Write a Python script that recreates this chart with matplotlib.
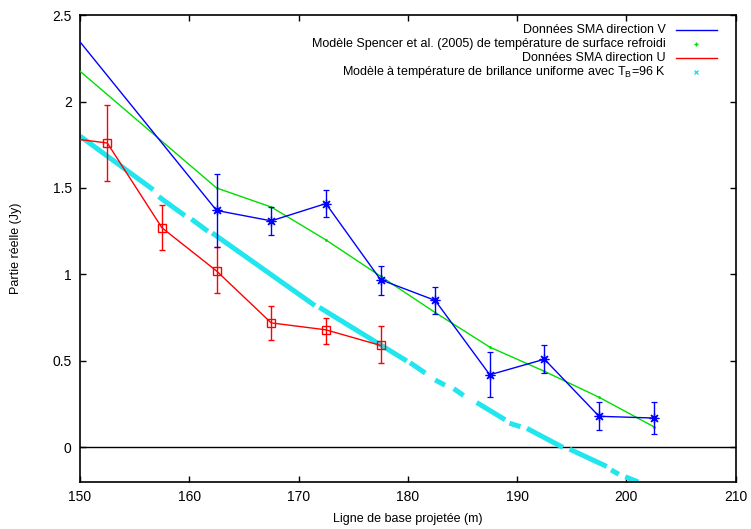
import numpy as np
import matplotlib
matplotlib.use('Agg')
import matplotlib.pyplot as plt

plt.rcParams['font.family'] = ['Liberation Sans', 'DejaVu Sans']
plt.rcParams['font.size'] = 9

# Données SMA direction V (first point outside the frame, line comes in from the left)
v_x = [147.5, 162.5, 167.5, 172.5, 177.5, 182.5, 187.5, 192.5, 197.5, 202.5]
v_y = [2.54, 1.37, 1.31, 1.41, 0.97, 0.85, 0.42, 0.51, 0.18, 0.17]
v_lo = [0.0, 0.21, 0.08, 0.08, 0.09, 0.08, 0.13, 0.08, 0.08, 0.09]
v_hi = [0.0, 0.21, 0.08, 0.08, 0.08, 0.08, 0.13, 0.08, 0.08, 0.09]

# Données SMA direction U
u_x = [147.5, 152.5, 157.5, 162.5, 167.5, 172.5, 177.5]
u_y = [1.80, 1.76, 1.27, 1.02, 0.72, 0.68, 0.59]
u_lo = [0.0, 0.22, 0.13, 0.13, 0.10, 0.08, 0.10]
u_hi = [0.0, 0.22, 0.13, 0.14, 0.10, 0.07, 0.11]

# Modèle Spencer et al. (2005)
m_x = [147.5, 162.5, 167.5, 172.5, 177.5, 182.5, 187.5, 192.5, 197.5, 202.5]
m_y = [2.31, 1.50, 1.39, 1.20, 0.99, 0.78, 0.58, 0.44, 0.29, 0.12]

# Modèle TB=96 K : segments of densely packed points (x start, x end, y start, y end)
tb_x0 = [150.0, 157.2, 160.2, 162.1, 171.9, 180.2, 182.5, 184.2, 186.3, 189.3, 190.9, 194.8, 198.6, 199.9]
tb_x1 = [156.7, 159.6, 161.7, 171.5, 179.9, 181.6, 183.4, 185.1, 188.9, 190.3, 194.2, 198.2, 199.3, 201.1]
tb_y0 = [1.80, 1.45, 1.32, 1.24, 0.81, 0.49, 0.39, 0.34, 0.26, 0.14, 0.11, -0.01, -0.13, -0.17]
tb_y1 = [1.49, 1.34, 1.25, 0.82, 0.50, 0.43, 0.36, 0.30, 0.16, 0.12, 0.00, -0.11, -0.155, -0.20]

c_blue = '#0000ff'
c_red = '#ff0000'
c_green = '#00dd00'
c_cyan = '#22e6ee'

fig = plt.figure(figsize=(7.51, 5.29), dpi=100)
ax = fig.add_axes([0.1065, 0.0888, 0.9796 - 0.1065, 0.9716 - 0.0888])

ax.axhline(0, color='black', lw=1.0, zorder=1)

for xa, xb, ya, yb in zip(tb_x0, tb_x1, tb_y0, tb_y1):
    ax.plot([xa, xb], [ya, yb], color=c_cyan, lw=3.6, solid_capstyle='butt', zorder=2)

ax.plot(m_x, m_y, color=c_green, lw=1.0, marker='.', ms=2, zorder=3)

ax.errorbar(u_x, u_y, yerr=[u_lo, u_hi], color=c_red, lw=1.0, elinewidth=1.0,
            capsize=2.5, marker='s', ms=6, mfc='none', mec=c_red, mew=1.0, zorder=4)
ax.errorbar(v_x, v_y, yerr=[v_lo, v_hi], color=c_blue, lw=1.0, elinewidth=1.0,
            capsize=2.5, marker=(8, 2, 0), ms=7, mew=0.9, zorder=5)

ax.set_xlim(150, 210)
ax.set_ylim(-0.2, 2.5)
ax.set_xticks(np.arange(150, 211, 10))
ax.set_yticks([0, 0.5, 1, 1.5, 2, 2.5])
ax.set_yticklabels(['0', '0.5', '1', '1.5', '2', '2.5'])
ax.tick_params(direction='in', length=4.5, width=1.0, top=True, right=True, labelsize=10, pad=6)
for s in ax.spines.values():
    s.set_linewidth(1.2)

ax.set_xlabel('Ligne de base projetée (m)', fontsize=9, labelpad=6)
ax.set_ylabel('Partie réelle (Jy)', fontsize=9, labelpad=22)

# legend, gnuplot style: text right-aligned, sample on the right
leg_labels = ['Données SMA direction V',
              'Modèle Spencer et al. (2005) de température de surface refroidi',
              'Données SMA direction U',
              r'Modèle à température de brillance uniforme avec T$_\mathregular{B}$=96 K']
tx = (666 - 80) / (735.7 - 80)
sx0 = (676 - 80) / (735.7 - 80)
sx1 = (717 - 80) / (735.7 - 80)
for i, lab in enumerate(leg_labels):
    yy = 1 - (30 + 14 * i - 15) / (482 - 15)
    ax.text(tx, yy, lab, transform=ax.transAxes, ha='right', va='center', fontsize=9)
    if i == 0:
        ax.plot([sx0, sx1], [yy, yy], color=c_blue, lw=1.0, transform=ax.transAxes, clip_on=False)
    elif i == 2:
        ax.plot([sx0, sx1], [yy, yy], color=c_red, lw=1.0, transform=ax.transAxes, clip_on=False)
    elif i == 1:
        ax.plot([(sx0 + sx1) / 2], [yy], color=c_green, marker='+', ms=3, mew=1.0, transform=ax.transAxes, clip_on=False)
    else:
        ax.plot([(sx0 + sx1) / 2], [yy], color=c_cyan, marker='x', ms=3, mew=1.0, transform=ax.transAxes, clip_on=False)

fig.savefig('out.png', dpi=100)
